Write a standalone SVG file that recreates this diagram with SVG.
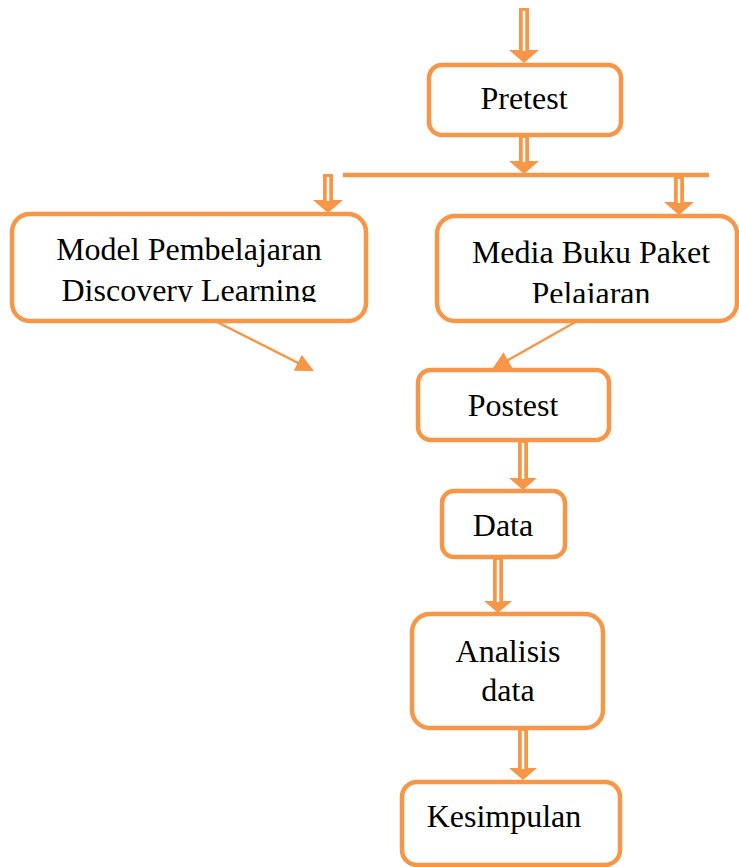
<svg xmlns="http://www.w3.org/2000/svg" width="739" height="867" viewBox="0 0 739 867">
<style>
.box{fill:#fff;stroke:#F79646;stroke-width:4.5}
.t{font-family:"Liberation Serif","Times New Roman",serif;font-size:32px;fill:#000;text-anchor:middle}
.ln{stroke:#F79646;fill:none}
.ha{fill:#F79646}
.gap{stroke:#fff;stroke-width:2.5}
</style>
<defs>
<marker id="tri2" markerWidth="18" markerHeight="18" refX="16" refY="9" orient="auto" markerUnits="userSpaceOnUse" viewBox="0 0 18 18">
<path d="M0,0 L18,9 L0,18 z" fill="#F79646"/>
</marker>
<clipPath id="c1"><rect x="0" y="0" width="739" height="302"/></clipPath>
<clipPath id="c2"><rect x="0" y="0" width="739" height="303"/></clipPath>
</defs>
<g id="connectors">
<path class="ha" d="M519,8 h10 v42 h10 l-15,13 l-15,-13 h10 z"/><line class="gap" x1="524" y1="11" x2="524" y2="51"/>
<path class="ha" d="M519,137 h10 v24 h10 l-15,13 l-15,-13 h10 z"/><line class="gap" x1="524" y1="138" x2="524" y2="162"/>
<line class="ln" x1="343" y1="175" x2="709" y2="175" stroke-width="4.5"/>
<path class="ha" d="M323,174 h10 v26 h10 l-15,13 l-15,-13 h10 z"/><line class="gap" x1="328" y1="177" x2="328" y2="201"/>
<path class="ha" d="M674,177 h10 v25 h10 l-15,13 l-15,-13 h10 z"/><line class="gap" x1="679" y1="179" x2="679" y2="203"/>
<line class="ln" x1="213" y1="320" x2="312" y2="370" stroke-width="2.5" marker-end="url(#tri2)"/>
<line class="ln" x1="579" y1="320" x2="494" y2="368" stroke-width="2.5" marker-end="url(#tri2)"/>
<path class="ha" d="M518,442 h10 v36 h9 l-14,12 l-14,-12 h9 z"/><line class="gap" x1="523" y1="443" x2="523" y2="479"/>
<path class="ha" d="M493,559 h10 v42 h9 l-14,12 l-14,-12 h9 z"/><line class="gap" x1="498" y1="560" x2="498" y2="602"/>
<path class="ha" d="M518,730 h10 v38 h9 l-14,12 l-14,-12 h9 z"/><line class="gap" x1="523" y1="731" x2="523" y2="769"/>
</g>
<g id="pretest"><rect class="box" x="429" y="65" width="192" height="70" rx="13"/><text class="t" x="524" y="109">Pretest</text></g>
<g id="model"><rect class="box" x="12" y="214" width="354" height="107" rx="18"/>
<text class="t" x="189" y="260">Model Pembelajaran</text>
<text class="t" x="189" y="301" clip-path="url(#c1)">Discovery Learning</text></g>
<g id="media"><rect class="box" x="437" y="216" width="300" height="105" rx="18"/>
<text class="t" x="591" y="263">Media Buku Paket</text>
<text class="t" x="591" y="304" clip-path="url(#c2)">Pelajaran</text></g>
<g id="postest"><rect class="box" x="418" y="370" width="191" height="70" rx="13"/><text class="t" x="513" y="416">Postest</text></g>
<g id="data"><rect class="box" x="442" y="491" width="123" height="66" rx="12"/><text class="t" x="503" y="536">Data</text></g>
<g id="analisis"><rect class="box" x="412" y="614" width="191" height="114" rx="18"/>
<text class="t" x="508" y="662">Analisis</text><text class="t" x="508" y="701">data</text></g>
<g id="kesimpulan"><rect class="box" x="402" y="782" width="218" height="83" rx="15"/><text class="t" x="504" y="827">Kesimpulan</text></g>
</svg>
